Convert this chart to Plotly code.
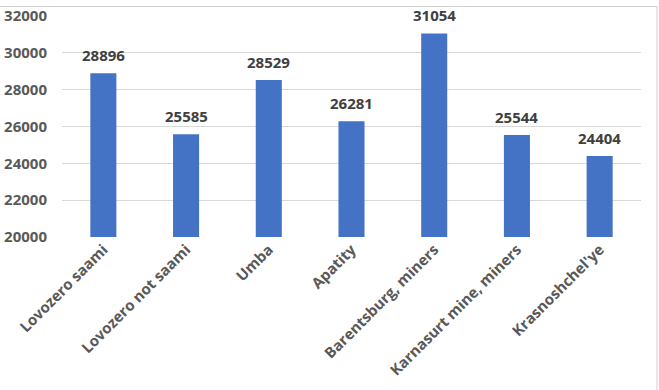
import plotly.graph_objects as go

categories = ["Lovozero saami", "Lovozero not saami", "Umba", "Apatity",
              "Barentsburg, miners", "Karnasurt mine, miners", "Krasnoshchel'ye"]
values = [28896, 25585, 28529, 26281, 31054, 25544, 24404]
y_ticks = [20000, 22000, 24000, 26000, 28000, 30000, 32000]

W, H = 659, 390
L, R, T, B = 62, 18, 16, 153
pw, ph = W - L - R, H - T - B

FONT = "Open Sans"
fig = go.Figure(go.Bar(
    x=categories, y=values,
    marker=dict(color="#4472C4", line=dict(width=0)),
    hoverinfo="skip",
))

for c, v in zip(categories, values):
    fig.add_annotation(
        x=c, y=v, text=str(v), showarrow=False, yanchor="bottom", yshift=6,
        font=dict(family=FONT, size=15, color="#404040", weight="bold"),
    )

def px_x(p):
    return (p - L) / pw

def px_y(p):
    return (H - B - p) / ph

fig.update_layout(
    width=W, height=H,
    margin=dict(l=L, r=R, t=T, b=B, autoexpand=False),
    paper_bgcolor="white", plot_bgcolor="white",
    bargap=0.685,
    showlegend=False,
    font=dict(family=FONT),
    xaxis=dict(
        tickangle=-45, showgrid=False, showline=False, ticks="", automargin=False,
        tickfont=dict(family=FONT, size=15, color="#595959", weight="bold"),
    ),
    yaxis=dict(
        range=[20000, 32000], tickvals=y_ticks, ticktext=[str(t) for t in y_ticks],
        showgrid=True, gridcolor="#d9d9d9", gridwidth=1, zeroline=False, showline=False,
        ticks="", ticklabelstandoff=14, automargin=False,
        tickfont=dict(family=FONT, size=15, color="#595959", weight="bold"),
    ),
    shapes=[
        dict(type="line", xref="paper", yref="paper", x0=px_x(-5), x1=px_x(657),
             y0=px_y(6.5), y1=px_y(6.5), line=dict(color="#d0d0d0", width=1)),
        dict(type="line", xref="paper", yref="paper", x0=px_x(657), x1=px_x(657),
             y0=px_y(6), y1=px_y(395), line=dict(color="#d0d0d0", width=1)),
    ],
)

fig.write_html(
    "out.html",
    config={"displayModeBar": False},
    post_script="document.body.style.margin='0';document.body.style.overflow='hidden';",
)
